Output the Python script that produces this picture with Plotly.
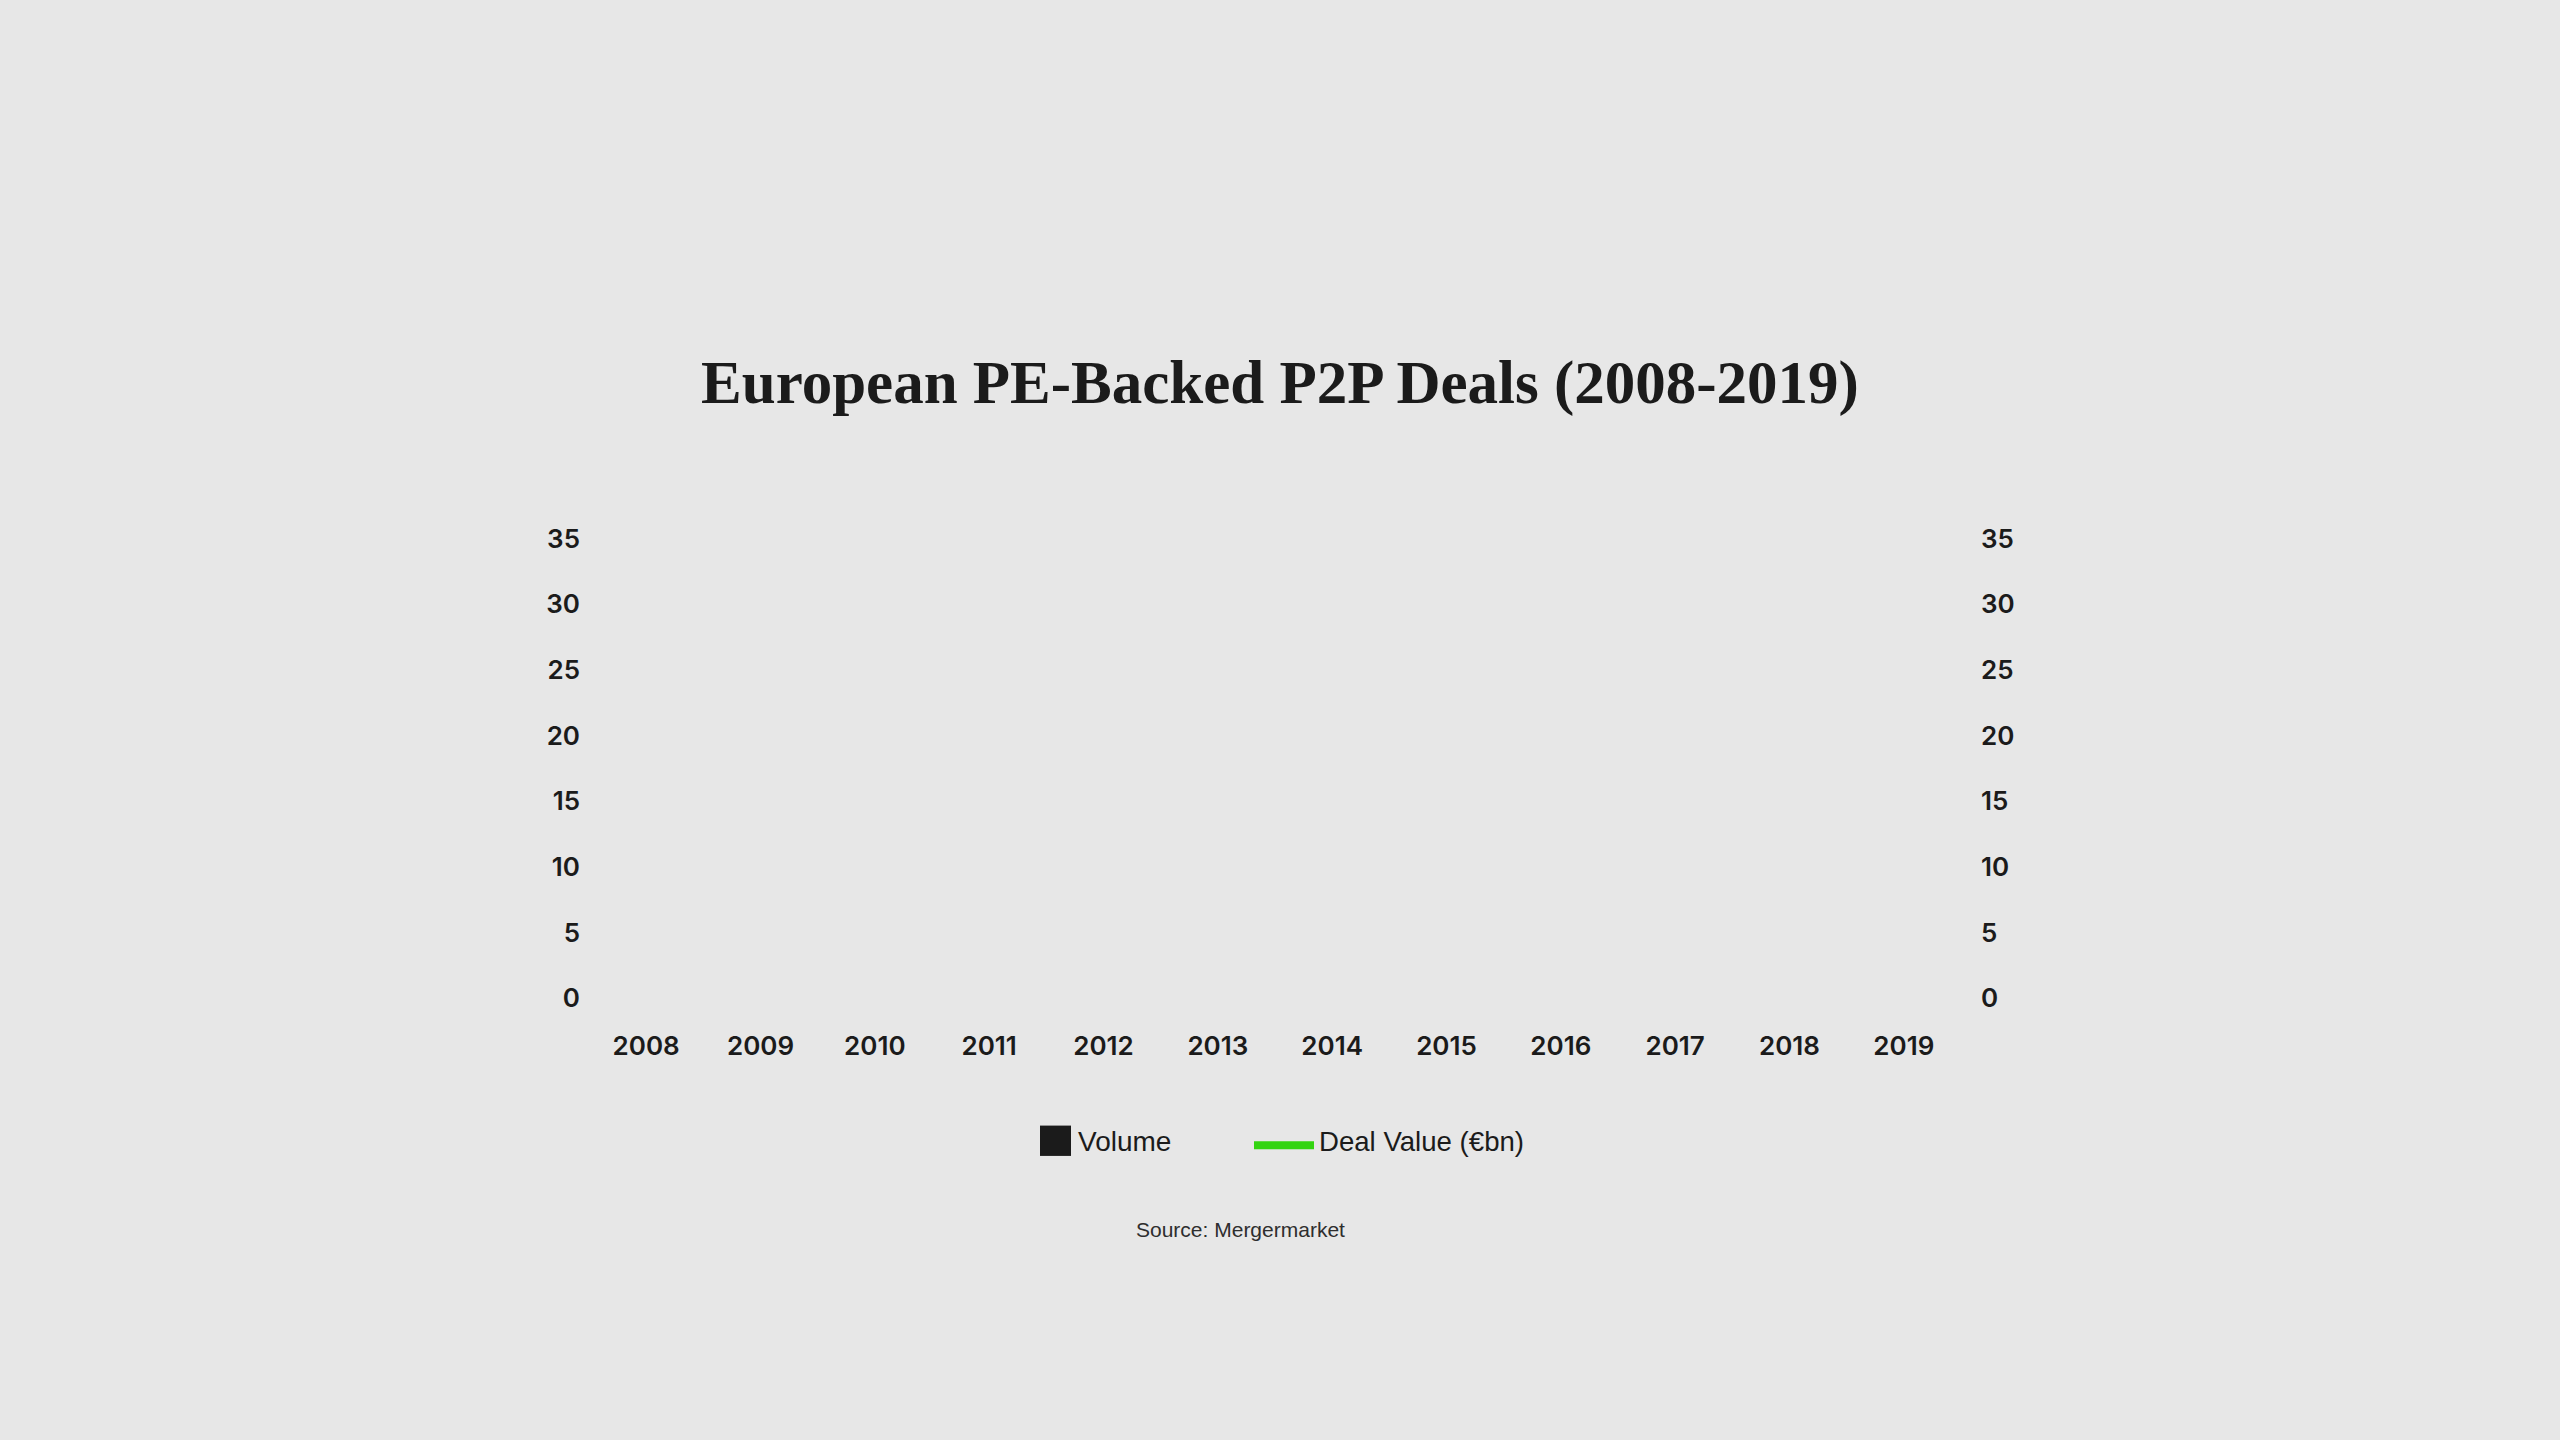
import plotly.graph_objects as go

# ---- data (as shown in the reference: no marks are drawn) ----
years = ["2008", "2009", "2010", "2011", "2012", "2013", "2014", "2015", "2016", "2017", "2018", "2019"]
volume = [0, 0, 0, 0, 0, 0, 0, 0, 0, 0, 0, 0]
deal_value = [None, None, None, None, None, None, None, None, None, None, None, None]
y_ticks = [0, 5, 10, 15, 20, 25, 30, 35]

W, H = 2560, 1440
BG = "#e7e7e7"
INK = "#1b1b1b"
GREEN = "#33d411"


def px(x):
    return x / W


def py(y):
    return 1 - y / H


fig = go.Figure()
fig.add_trace(go.Bar(x=years, y=volume, name="Volume", marker=dict(color=INK, line=dict(width=0)),
                     yaxis="y", showlegend=False))
fig.add_trace(go.Scatter(x=years, y=deal_value, name="Deal Value (€bn)", mode="lines",
                         line=dict(color=GREEN, width=8), yaxis="y2", showlegend=False))

tick_font = dict(family="Inter", size=26, color=INK, weight=600)

fig.update_layout(
    width=W, height=H,
    margin=dict(l=0, r=0, t=0, b=0),
    paper_bgcolor=BG, plot_bgcolor=BG,
    title=dict(text="<b>European PE-Backed P2P Deals (2008-2019)</b>",
               x=0.5, xanchor="center", y=py(382), yanchor="middle",
               font=dict(family="Liberation Serif", size=61, color=INK)),
    xaxis=dict(domain=[px(589), px(1961)], type="category", showgrid=False, zeroline=False,
               showline=False, ticks="", tickfont=tick_font, ticklabelstandoff=30, fixedrange=True),
    yaxis=dict(domain=[py(1004), py(534)], range=[0, 35], tickvals=y_ticks, showgrid=False,
               zeroline=False, showline=False, ticks="", tickfont=tick_font, ticklabelstandoff=8),
    yaxis2=dict(overlaying="y", side="right", range=[0, 35], tickvals=y_ticks, showgrid=False,
                zeroline=False, showline=False, ticks="", tickfont=tick_font, ticklabelstandoff=19,
                anchor="x"),
    showlegend=False,
    bargap=0.3,
)

# custom legend
LY = 8
fig.add_shape(type="rect", xref="paper", yref="paper",
              x0=px(1040), x1=px(1071), y0=py(1157 + LY), y1=py(1126 + LY),
              fillcolor=INK, line=dict(width=0))
fig.add_shape(type="line", xref="paper", yref="paper",
              x0=px(1254), x1=px(1314), y0=py(1146 + LY), y1=py(1146 + LY),
              line=dict(color=GREEN, width=8))
legend_font = dict(family="Liberation Sans", size=28, color=INK)
fig.add_annotation(text="Volume", xref="paper", yref="paper", x=px(1076), y=py(1142 + LY),
                   xanchor="left", yanchor="middle", showarrow=False, font=legend_font)
fig.add_annotation(text="Deal Value (€bn)", xref="paper", yref="paper", x=px(1317), y=py(1142 + LY),
                   xanchor="left", yanchor="middle", showarrow=False,
                   font=dict(family="Liberation Sans", size=27.6, color=INK))

# source
fig.add_annotation(text="Source: Mergermarket", xref="paper", yref="paper", x=px(1240), y=py(1240),
                   xanchor="center", yanchor="middle", showarrow=False,
                   font=dict(family="Liberation Sans", size=21, color="#2e2e2e"))

fig.write_html("out.html", config={"displayModeBar": False})
